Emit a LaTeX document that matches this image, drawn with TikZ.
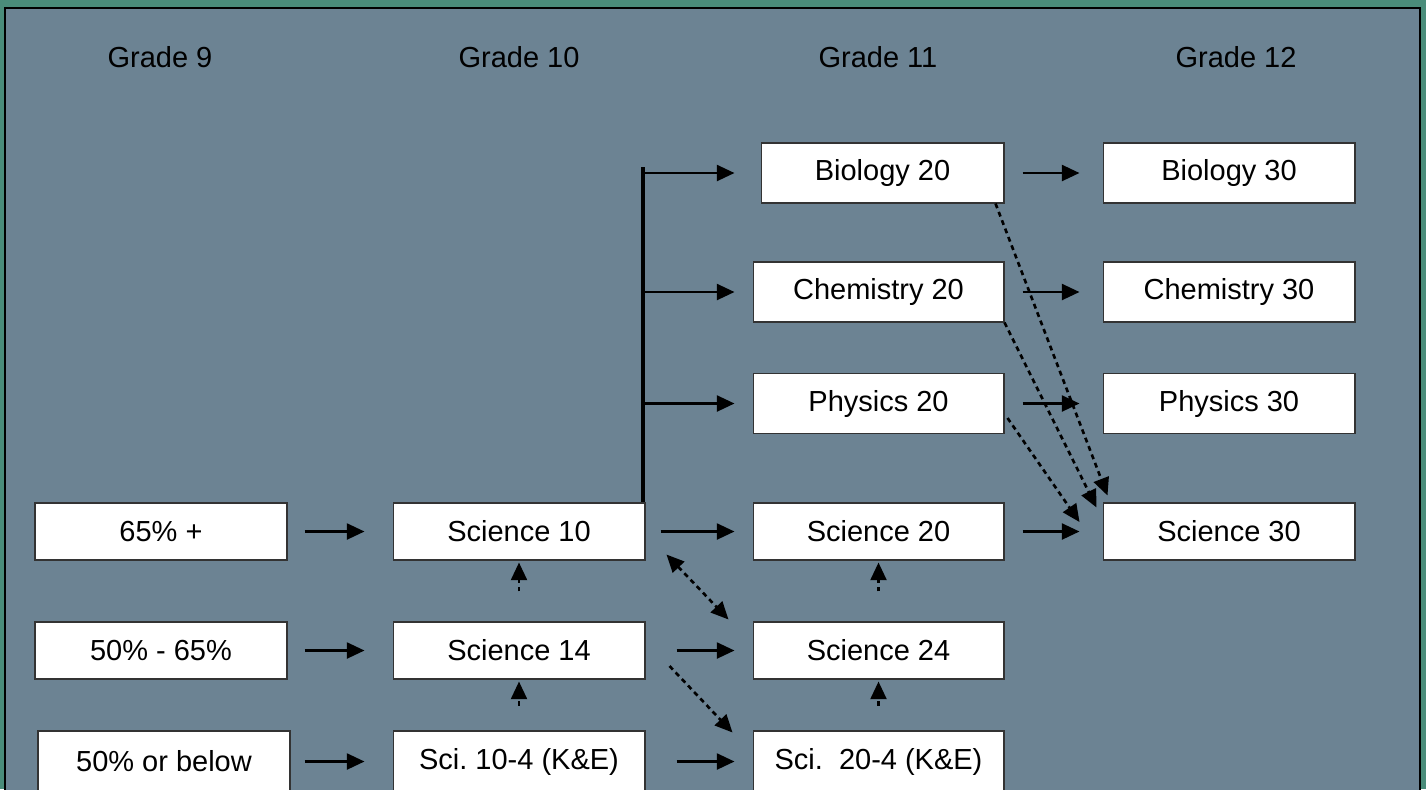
\documentclass[tikz,border=0pt]{standalone}
\usepackage{fontspec}
\setmainfont{Liberation Sans}
\usetikzlibrary{arrows.meta}
\definecolor{frame}{RGB}{74,140,122}
\definecolor{panel}{RGB}{108,131,147}
\tikzset{
  box/.style={draw=black!80, fill=white, line width=0.6pt, minimum width=5.04cm, minimum height=1.14cm, inner sep=0pt, font=\fontsize{16.5}{20}\selectfont},
  tall/.style={minimum height=1.2cm},
  low/.style={minimum height=1.22cm},
  grade/.style={font=\fontsize{16.5}{20}\selectfont},
  arr/.style={-{Triangle[length=10pt,width=9pt]}, line width=1.5pt},
  dotarr/.style={arr, dash pattern=on 2.8pt off 2.3pt},
}

\begin{document}
\begin{tikzpicture}[x=0.02cm, y=-0.02cm]
\useasboundingbox (0,0) rectangle (1426,789);
\fill[frame] (0,0) rectangle (1426,789);
\draw[fill=panel, line width=0.8pt] (5,8) rectangle (1420,800);

\node[grade] (h9) at (160,57) {Grade 9};
\node[grade] (h10) at (519,57) {Grade 10};
\node[grade] (h11) at (878,57) {Grade 11};
\node[grade] (h12) at (1236,57) {Grade 12};

\node[box] (g9a) at (161,531.5) {65\% +};
\node[box] (g9b) at (161,650.5) {50\% - 65\%};
\node[box, low] (g9c) at (164,761.5) {50\% or below};

\node[box] (sci10) at (519,531.5) {Science 10};
\node[box] (sci14) at (519,650.5) {Science 14};
\node[box, low] (sci104) at (519,761.5) {Sci.\ 10-4 (K\&E)};

\node[box, tall, minimum width=4.86cm] (bio20) at (882.5,173) {Biology 20};
\node[box, tall, minimum width=5.02cm] (chem20) at (878.5,292) {Chemistry 20};
\node[box, tall, minimum width=5.02cm] (phys20) at (878.5,403.5) {Physics 20};
\node[box, minimum width=5.02cm] (sci20) at (878.5,531.5) {Science 20};
\node[box, minimum width=5.02cm] (sci24) at (878.5,650.5) {Science 24};
\node[box, low, minimum width=5.02cm] (sci204) at (878.5,761.5) {Sci.~~20-4 (K\&E)};

\node[box, tall] (bio30) at (1229,173) {Biology 30};
\node[box, tall] (chem30) at (1229,292) {Chemistry 30};
\node[box, tall] (phys30) at (1229,403.5) {Physics 30};
\node[box] (sci30) at (1229,531.5) {Science 30};

\draw[arr, shorten <=0.34cm, shorten >=0.56cm] (g9a) -- (sci10);
\draw[arr, shorten <=0.34cm, shorten >=0.56cm] (g9b) -- (sci14);
\draw[arr, shorten <=0.28cm, shorten >=0.56cm] (g9c) -- (sci104);

\draw[arr, shorten <=0.3cm, shorten >=0.36cm] (sci10) -- (sci20);
\draw[arr, shorten <=0.62cm, shorten >=0.36cm] (sci14) -- (sci24);
\draw[arr, shorten <=0.62cm, shorten >=0.36cm] (sci104) -- (sci204);

\coordinate (bar) at (643,167);
\draw[line width=2.8pt] (bar) -- (bar |- sci10.north);
\draw[arr, shorten >=0.52cm] (bar |- bio20) -- (bio20);
\draw[arr, shorten >=0.36cm] (bar |- chem20) -- (chem20);
\draw[arr, shorten >=0.36cm] (bar |- phys20) -- (phys20);

\draw[arr, shorten <=0.36cm, shorten >=0.46cm] (bio20) -- (bio30);
\draw[arr, shorten <=0.36cm, shorten >=0.46cm] (chem20) -- (chem30);
\draw[arr, shorten <=0.36cm, shorten >=0.46cm] (phys20) -- (phys30);
\draw[arr, shorten <=0.36cm, shorten >=0.46cm] (sci20) -- (sci30);

\draw[dotarr, shorten <=0.6cm, shorten >=0.04cm] (sci14) -- (sci10);
\draw[dotarr, shorten <=0.5cm, shorten >=0.04cm] (sci104) -- (sci14);
\draw[dotarr, shorten <=0.6cm, shorten >=0.04cm] (sci24) -- (sci20);
\draw[dotarr, shorten <=0.5cm, shorten >=0.04cm] (sci204) -- (sci24);

\draw[dotarr, {Triangle[length=10pt,width=9pt]}-{Triangle[length=10pt,width=9pt]}] ([xshift=0.42cm,yshift=0.12cm]sci10.south east) -- ([xshift=-0.48cm,yshift=0.04cm]sci24.north west);
\draw[dotarr] ([xshift=0.48cm,yshift=-0.31cm]sci14.east) -- ([xshift=-0.4cm,yshift=-0.04cm]sci204.north west);

\draw[dotarr] ([xshift=-0.18cm]bio20.south east) -- ([xshift=0.1cm,yshift=0.14cm]sci30.north west);
\draw[dotarr] (chem20.south east) -- ([xshift=-0.12cm,yshift=-0.1cm]sci30.north west);
\draw[dotarr] ([xshift=0.06cm,yshift=-0.29cm]phys20.east) -- ([xshift=-0.46cm,yshift=0.19cm]sci30.west);
\end{tikzpicture}
\end{document}
